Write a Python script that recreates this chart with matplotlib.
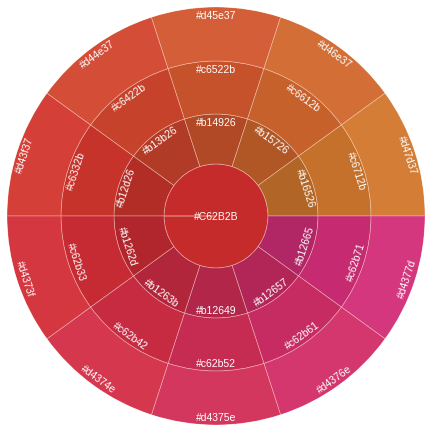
import numpy as np
import matplotlib.pyplot as plt

plt.rcParams['font.family'] = ['Liberation Sans', 'DejaVu Sans']

# Centre et anneaux, segments listés dans le sens horaire à partir de 180°
centre = "#C62B2B"
anneau1 = ["#b12d26", "#b13b26", "#b14926", "#b15726", "#b16526",
           "#b12665", "#b12657", "#b12649", "#b1263b", "#b1262d"]
anneau2 = ["#c6332b", "#c6422b", "#c6522b", "#c6612b", "#c6712b",
           "#c62b71", "#c62b61", "#c62b52", "#c62b42", "#c62b33"]
anneau3 = ["#d43f37", "#d44e37", "#d45e37", "#d46e37", "#d47d37",
           "#d4377d", "#d4376e", "#d4375e", "#d4374e", "#d4373f"]

rayons = [52, 102, 155, 209]
R = rayons[-1]

W, H = 434, 435
cx, cy = 216, 218  # centre en pixels (depuis le bas)
fig = plt.figure(figsize=(W / 100, H / 100), dpi=100)
ax = fig.add_axes([(cx - R) / W, (cy - R) / H, 2 * R / W, 2 * R / H], projection='polar')

bord = (1, 0.9, 0.85, 0.45)

# Centre
ax.bar(0, rayons[0], width=2 * np.pi, bottom=0, color=centre, edgecolor=bord, linewidth=0.5)
ax.text(0, 0, centre, color='white', fontsize=7.5, ha='center', va='center')

n = len(anneau1)
pas = 360 / n
for k, couleurs in enumerate([anneau1, anneau2, anneau3]):
    r_in, r_out = rayons[k], rayons[k + 1]
    for i, c in enumerate(couleurs):
        ang = 180 - pas / 2 - pas * i
        th = np.deg2rad(ang)
        ax.bar(th, r_out - r_in, width=np.deg2rad(pas), bottom=r_in,
               color=c, edgecolor=bord, linewidth=0.5)
        a = (ang + 180) % 360 - 180
        rot = a - 90 if a >= 0 else a + 90
        ax.text(th, r_out - 8, c, color='white', fontsize=7.5, ha='center', va='center',
                rotation=rot, rotation_mode='anchor')

ax.set_ylim(0, R)
ax.set_axis_off()

fig.savefig("out.png", dpi=100)
